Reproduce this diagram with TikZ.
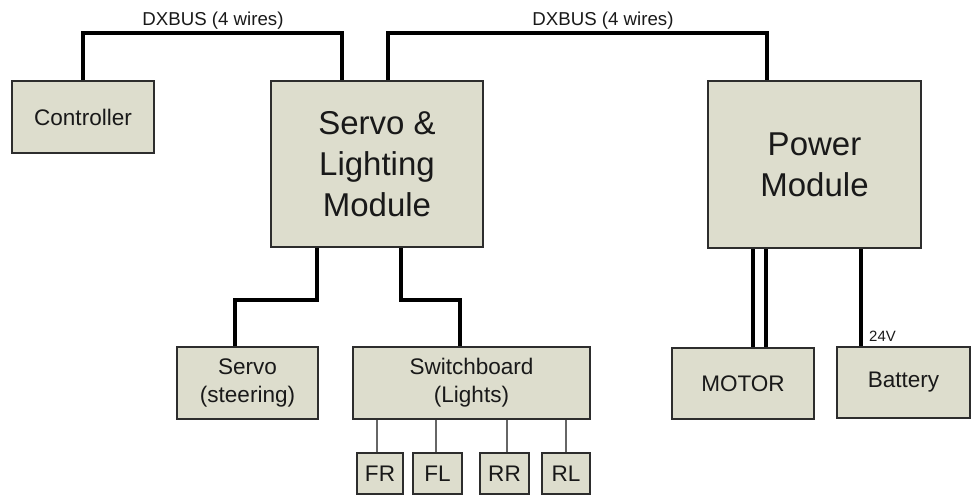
\documentclass[tikz,border=0pt]{standalone}
\usepackage{fontspec}
\setmainfont{Liberation Sans}
\definecolor{boxfill}{RGB}{221,221,205}
\definecolor{boxline}{RGB}{45,45,45}
\definecolor{txt}{RGB}{25,25,25}
\begin{document}
\begin{tikzpicture}[x=0.75pt,y=-0.75pt,
  blk/.style={draw=boxline,fill=boxfill,line width=1.5pt,inner sep=0pt,align=center,text=txt},
  big/.style={font=\fontsize{24.75}{30.75}\selectfont},
  mid/.style={font=\fontsize{16.9}{21}\selectfont},
  bus/.style={line width=2.4pt,black},
  thin/.style={line width=1.1pt,gray!80!black},
  lbl/.style={text=txt,inner sep=0pt}]
\useasboundingbox (0,0) rectangle (971,496);
% boxes
\node[blk,mid,minimum width=142*0.75pt,minimum height=72*0.75pt] (ctrl) at (83,117) {Controller};
\node[blk,big,minimum width=212*0.75pt,minimum height=166*0.75pt] (sl) at (377,164) {Servo \&\\Lighting\\Module};
\node[blk,big,minimum width=213*0.75pt,minimum height=167*0.75pt] (pm) at (814.5,164.5) {Power\\Module};
\node[blk,mid,minimum width=141*0.75pt,minimum height=72*0.75pt] (servo) at (247.5,383) {Servo\\(steering)};
\node[blk,mid,minimum width=237*0.75pt,minimum height=72*0.75pt] (sw) at (471.5,383) {Switchboard\\(Lights)};
\node[blk,mid,minimum width=142*0.75pt,minimum height=71*0.75pt] (motor) at (743,383.5) {MOTOR};
\node[blk,mid,minimum width=133*0.75pt,minimum height=71*0.75pt] (bat) at (903.5,382.5) {Battery};
\node[blk,mid,minimum width=46*0.75pt,minimum height=41*0.75pt] (fr) at (380,473.5) {FR};
\node[blk,mid,minimum width=49*0.75pt,minimum height=41*0.75pt] (fl) at (437.5,473.5) {FL};
\node[blk,mid,minimum width=49*0.75pt,minimum height=41*0.75pt] (rr) at (504.5,473.5) {RR};
\node[blk,mid,minimum width=48*0.75pt,minimum height=41*0.75pt] (rl) at (566,473.5) {RL};
% buses
\draw[bus] (ctrl.north) |- (342,33) -- (sl.north -| 342,0);
\draw[bus] (sl.north -| 388,0) |- (767,33) -- (pm.north -| 767,0);
\node[lbl,font=\fontsize{14}{16}\selectfont] (bus1) at (213,21) {DXBUS (4 wires)};
\node[lbl,font=\fontsize{14}{16}\selectfont] (bus2) at (603,21) {DXBUS (4 wires)};
% servo & lighting outputs
\draw[bus] (sl.south -| 317,0) |- (235,300) -- (servo.north -| 235,0);
\draw[bus] (sl.south -| 401,0) |- (460,300) -- (sw.north -| 460,0);
% power module outputs
\draw[bus] (pm.south -| 753,0) -- (motor.north -| 753,0);
\draw[bus] (pm.south -| 766,0) -- (motor.north -| 766,0);
\draw[bus] (pm.south -| 861,0) -- (bat.north -| 861,0);
\node[lbl,font=\fontsize{11.2}{13}\selectfont] (v24) at (882.5,336) {24V};
% lights
\draw[thin] (sw.south -| 377,0) -- (fr.north -| 377,0);
\draw[thin] (sw.south -| 436,0) -- (fl.north -| 436,0);
\draw[thin] (sw.south -| 507,0) -- (rr.north -| 507,0);
\draw[thin] (sw.south -| 566,0) -- (rl.north -| 566,0);
\end{tikzpicture}
\end{document}
